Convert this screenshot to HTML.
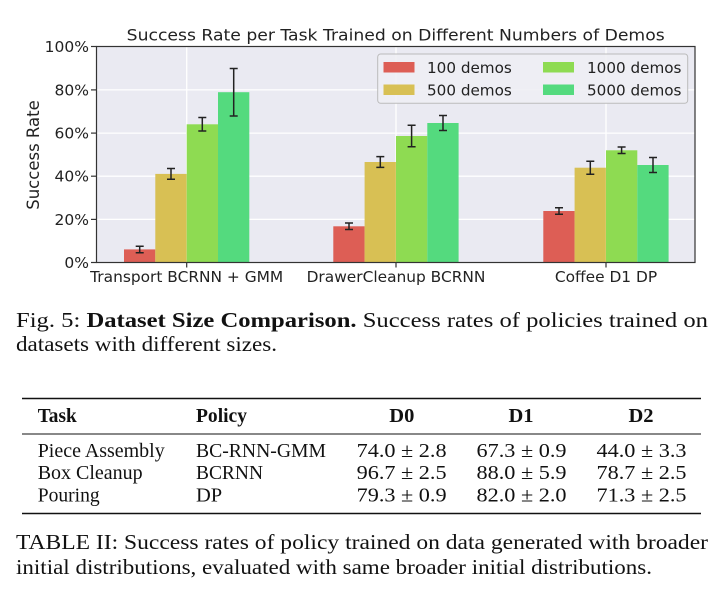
<!DOCTYPE html>
<html><head><meta charset="utf-8"><style>
html,body{margin:0;padding:0;background:#fff;}
svg{display:block;}
.t{font-family:"DejaVu Sans",sans-serif;fill:#222;}
.s{font-family:"Liberation Serif",serif;fill:#111;}
</style></head><body>
<svg width="721" height="590" viewBox="0 0 721 590" xmlns="http://www.w3.org/2000/svg">
<rect x="96.5" y="46.5" width="598.5" height="216" fill="#eaeaf2"/>
<g stroke="#fff" stroke-width="1.3">
<line x1="96.5" x2="695" y1="219.4" y2="219.4"/>
<line x1="96.5" x2="695" y1="176.2" y2="176.2"/>
<line x1="96.5" x2="695" y1="133.1" y2="133.1"/>
<line x1="96.5" x2="695" y1="89.9" y2="89.9"/>
<line x1="186.7" x2="186.7" y1="46.5" y2="262.5"/>
<line x1="396" x2="396" y1="46.5" y2="262.5"/>
<line x1="606" x2="606" y1="46.5" y2="262.5"/>
</g>
<g>
<rect x="124" y="249.4" width="31.3" height="12.9" fill="#dd5e55"/>
<rect x="155.3" y="173.9" width="31.3" height="88.4" fill="#d8c054"/>
<rect x="186.7" y="124.3" width="31.3" height="138" fill="#8edb52"/>
<rect x="218" y="92.2" width="31.3" height="170.1" fill="#54da7e"/>
<rect x="333.3" y="226.3" width="31.3" height="36" fill="#dd5e55"/>
<rect x="364.6" y="162" width="31.3" height="100.3" fill="#d8c054"/>
<rect x="396" y="136" width="31.3" height="126.3" fill="#8edb52"/>
<rect x="427.3" y="123" width="31.3" height="139.3" fill="#54da7e"/>
<rect x="543.3" y="211" width="31.3" height="51.3" fill="#dd5e55"/>
<rect x="574.6" y="167.7" width="31.3" height="94.6" fill="#d8c054"/>
<rect x="606" y="150.3" width="31.3" height="112" fill="#8edb52"/>
<rect x="637.3" y="165" width="31.3" height="97.3" fill="#54da7e"/>
</g>
<g stroke="#222" stroke-width="1.5" fill="none">
<path d="M139.7 246.2V252.7M135.7 246.2h8M135.7 252.7h8"/>
<path d="M171 168.5V179.3M167 168.5h8M167 179.3h8"/>
<path d="M202.3 117.5V131M198.3 117.5h8M198.3 131h8"/>
<path d="M233.7 68.5V116M229.7 68.5h8M229.7 116h8"/>
<path d="M349 223V229.5M345 223h8M345 229.5h8"/>
<path d="M380.3 156.6V167.4M376.3 156.6h8M376.3 167.4h8"/>
<path d="M411.6 125.2V146.8M407.6 125.2h8M407.6 146.8h8"/>
<path d="M443 115.5V130.5M439 115.5h8M439 130.5h8"/>
<path d="M559 207.8V214.3M555 207.8h8M555 214.3h8"/>
<path d="M590.3 161.2V174.2M586.3 161.2h8M586.3 174.2h8"/>
<path d="M621.6 147V153.5M617.6 147h8M617.6 153.5h8"/>
<path d="M653 157.5V172.5M649 157.5h8M649 172.5h8"/>
</g>
<rect x="96.5" y="46.5" width="598.5" height="216" fill="none" stroke="#333" stroke-width="1.2"/>
<g stroke="#333" stroke-width="1.2">
<line x1="91" x2="96.5" y1="262.5" y2="262.5"/>
<line x1="91" x2="96.5" y1="219.4" y2="219.4"/>
<line x1="91" x2="96.5" y1="176.2" y2="176.2"/>
<line x1="91" x2="96.5" y1="133.1" y2="133.1"/>
<line x1="91" x2="96.5" y1="89.9" y2="89.9"/>
<line x1="91" x2="96.5" y1="46.5" y2="46.5"/>
<line x1="186.7" x2="186.7" y1="262.5" y2="267.5"/>
<line x1="396" x2="396" y1="262.5" y2="267.5"/>
<line x1="606" x2="606" y1="262.5" y2="267.5"/>
</g>
<g class="t" font-size="15.5" text-anchor="end">
<text x="89" y="268">0%</text>
<text x="89" y="224.9">20%</text>
<text x="89" y="181.7">40%</text>
<text x="89" y="138.6">60%</text>
<text x="89" y="95.4">80%</text>
<text x="89" y="52">100%</text>
</g>
<g class="t" font-size="15.4" text-anchor="middle">
<text x="186.7" y="282">Transport BCRNN + GMM</text>
<text x="396" y="282">DrawerCleanup BCRNN</text>
<text x="606" y="282">Coffee D1 DP</text>
</g>
<text class="t" font-size="16.5" transform="translate(39,155) rotate(-90)" text-anchor="middle">Success Rate</text>
<text class="t" font-size="16" x="126.7" y="40.7" textLength="538" lengthAdjust="spacingAndGlyphs">Success Rate per Task Trained on Different Numbers of Demos</text>
<rect x="377.7" y="54" width="310" height="49.3" rx="3" fill="#eeeef4" fill-opacity="0.9" stroke="#bbb" stroke-width="1"/>
<rect x="383.5" y="62" width="31" height="10.5" fill="#dd5e55"/>
<rect x="383.5" y="84.5" width="31" height="10.5" fill="#d8c054"/>
<rect x="543" y="62" width="31" height="10.5" fill="#8edb52"/>
<rect x="543" y="84.5" width="31" height="10.5" fill="#54da7e"/>
<g class="t" font-size="15.2">
<text x="427" y="73">100 demos</text>
<text x="427" y="95.5">500 demos</text>
<text x="587" y="73">1000 demos</text>
<text x="587" y="95.5">5000 demos</text>
</g>
<g class="s" font-size="21.5">
<text x="16" y="327" textLength="692" lengthAdjust="spacingAndGlyphs">Fig. 5: <tspan font-weight="bold">Dataset Size Comparison.</tspan> Success rates of policies trained on</text>
<text x="16" y="351" textLength="261" lengthAdjust="spacingAndGlyphs">datasets with different sizes.</text>
</g>
<line x1="22" x2="701" y1="398.5" y2="398.5" stroke="#111" stroke-width="1.6"/>
<line x1="22" x2="701" y1="434" y2="434" stroke="#111" stroke-width="1"/>
<line x1="22" x2="701" y1="513.5" y2="513.5" stroke="#111" stroke-width="1.6"/>
<g class="s" font-size="20.5">
<text x="37.7" y="422" font-weight="bold" textLength="39" lengthAdjust="spacingAndGlyphs">Task</text>
<text x="196" y="422" font-weight="bold" textLength="51" lengthAdjust="spacingAndGlyphs">Policy</text>
<text x="401.8" y="422" font-weight="bold" text-anchor="middle">D0</text>
<text x="521" y="422" font-weight="bold" text-anchor="middle">D1</text>
<text x="641" y="422" font-weight="bold" text-anchor="middle">D2</text>
<text x="37.7" y="457" textLength="127" lengthAdjust="spacingAndGlyphs">Piece Assembly</text>
<text x="37.7" y="479" textLength="105" lengthAdjust="spacingAndGlyphs">Box Cleanup</text>
<text x="37.7" y="501.7" textLength="62" lengthAdjust="spacingAndGlyphs">Pouring</text>
<text x="196" y="457" textLength="130" lengthAdjust="spacingAndGlyphs">BC-RNN-GMM</text>
<text x="196" y="479" textLength="67" lengthAdjust="spacingAndGlyphs">BCRNN</text>
<text x="196" y="501.7">DP</text>
<text x="356.6" y="457" textLength="90" lengthAdjust="spacingAndGlyphs">74.0 ± 2.8</text>
<text x="356.6" y="479" textLength="90" lengthAdjust="spacingAndGlyphs">96.7 ± 2.5</text>
<text x="356.6" y="501.7" textLength="90" lengthAdjust="spacingAndGlyphs">79.3 ± 0.9</text>
<text x="476.5" y="457" textLength="90" lengthAdjust="spacingAndGlyphs">67.3 ± 0.9</text>
<text x="476.5" y="479" textLength="90" lengthAdjust="spacingAndGlyphs">88.0 ± 5.9</text>
<text x="476.5" y="501.7" textLength="90" lengthAdjust="spacingAndGlyphs">82.0 ± 2.0</text>
<text x="596.5" y="457" textLength="90" lengthAdjust="spacingAndGlyphs">44.0 ± 3.3</text>
<text x="596.5" y="479" textLength="90" lengthAdjust="spacingAndGlyphs">78.7 ± 2.5</text>
<text x="596.5" y="501.7" textLength="90" lengthAdjust="spacingAndGlyphs">71.3 ± 2.5</text>
</g>
<g class="s" font-size="21.5">
<text x="16" y="549" textLength="692" lengthAdjust="spacingAndGlyphs">TABLE II: Success rates of policy trained on data generated with broader</text>
<text x="16" y="574" textLength="636" lengthAdjust="spacingAndGlyphs">initial distributions, evaluated with same broader initial distributions.</text>
</g>
</svg>
</body></html>
